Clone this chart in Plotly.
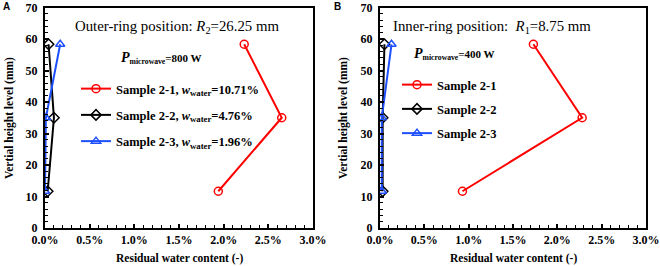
import plotly.graph_objects as go

heights = [58.33, 35.0, 11.67]

# Panel A (outer ring, 800 W)
a_s21 = [0.0223, 0.0265, 0.0194]
a_s22 = [0.0004, 0.0010, 0.0003]
a_s23 = [0.0017, 0.0001, 0.0000]
# Panel B (inner ring, 400 W)
b_s21 = [0.0173, 0.0228, 0.0093]
b_s22 = [0.0005, 0.0003, 0.0003]
b_s23 = [0.0013, 0.0002, 0.0002]

a_names = ["Sample 2-1, <i>w</i><sub>water</sub>=10.71%",
           "Sample 2-2, <i>w</i><sub>water</sub>=4.76%",
           "Sample 2-3, <i>w</i><sub>water</sub>=1.96%"]
b_names = ["Sample 2-1", "Sample 2-2", "Sample 2-3"]

colors = ["#FF0000", "#000000", "#1E50FF"]
symbols = ["circle-open", "diamond-open", "triangle-up-open"]

SERIF = "Liberation Serif"
SANS = "Liberation Sans"

fig = go.Figure()

for i, (vals, name) in enumerate(zip([a_s21, a_s22, a_s23], a_names)):
    fig.add_trace(go.Scatter(
        x=vals, y=heights, mode="lines+markers", name=name,
        line=dict(color=colors[i], width=2),
        marker=dict(symbol=symbols[i], size=8, color=colors[i], line=dict(width=1.5, color=colors[i])),
        xaxis="x", yaxis="y", legend="legend", legendgroup="a%d" % i))

for i, (vals, name) in enumerate(zip([b_s21, b_s22, b_s23], b_names)):
    fig.add_trace(go.Scatter(
        x=vals, y=heights, mode="lines+markers", name=name,
        line=dict(color=colors[i], width=2),
        marker=dict(symbol=symbols[i], size=8, color=colors[i], line=dict(width=1.5, color=colors[i])),
        xaxis="x2", yaxis="y2", legend="legend2", legendgroup="b%d" % i))

W, H = 660, 266
def px(x):
    return x / W
def py(y):
    return 1 - y / H

xcommon = dict(range=[0, 0.03], dtick=0.005, tick0=0, tickformat=".1%",
               ticks="inside", ticklen=4, tickwidth=1.5, tickcolor="black",
               minor=dict(dtick=0.001, ticks="inside", ticklen=3, tickwidth=1, tickcolor="black"),
               showline=True, linecolor="black", linewidth=2, mirror=True,
               showgrid=False, zeroline=False, automargin=False,
               tickfont=dict(family=SERIF, size=12, color="black", weight="bold"))
ycommon = dict(range=[0, 70], dtick=10, tick0=0,
               ticks="inside", ticklen=4, tickwidth=1.5, tickcolor="black",
               minor=dict(dtick=2, ticks="inside", ticklen=3, tickwidth=1, tickcolor="black"),
               showline=True, linecolor="black", linewidth=2, mirror=True,
               showgrid=False, zeroline=False, automargin=False, ticklabelstandoff=3,
               tickfont=dict(family=SERIF, size=12, color="black", weight="bold"),
               domain=[py(228), py(7.5)])

legcommon = dict(bgcolor="rgba(0,0,0,0)", borderwidth=0, traceorder="grouped",
                 font=dict(family=SERIF, size=12.5, color="black", weight="bold"),
                 xanchor="left", yanchor="top", itemwidth=30)

fig.update_layout(
    width=W, height=H, margin=dict(l=0, r=0, t=0, b=0),
    paper_bgcolor="white", plot_bgcolor="white",
    xaxis=dict(domain=[px(45), px(313)], anchor="y", **xcommon),
    yaxis=dict(anchor="x", **ycommon),
    xaxis2=dict(domain=[px(380), px(646)], anchor="y2", **xcommon),
    yaxis2=dict(anchor="x2", **ycommon),
    legend=dict(x=px(76), y=py(74), tracegroupgap=7, **legcommon),
    legend2=dict(x=px(397), y=py(70), tracegroupgap=5, **legcommon),
    showlegend=True,
)

ann = []
def add(text, x, y, size, bold=False, rot=0, family=SERIF, xanchor="center"):
    ann.append(dict(text=text, x=px(x), y=py(y), xref="paper", yref="paper",
                    showarrow=False, textangle=rot, xanchor=xanchor, yanchor="middle",
                    font=dict(family=family, size=size, color="black", weight="bold" if bold else "normal")))

add("Outer-ring position: <i>R</i><sub>2</sub>=26.25 mm", 177, 27, 14.8)
add("Inner-ring position:  <i>R</i><sub>1</sub>=8.75 mm", 492, 27, 14.8)
add("<span style='font-size:14px'><i>P</i></span><sub>microwave</sub>=800 W", 161, 58, 11, bold=True)
add("<span style='font-size:14px'><i>P</i></span><sub>microwave</sub>=400 W", 454, 54, 11, bold=True)
add("Vertial height level (mm)", 10, 118, 11.5, bold=True, rot=-90)
add("Vertial height level (mm)", 344, 118, 11.5, bold=True, rot=-90)
add("Residual water content (-)", 179, 258, 11.5, bold=True)
add("Residual water content (-)", 513, 258, 11.5, bold=True)
add("A", 6, 7, 10, bold=True, family=SANS)
add("B", 337, 7, 10, bold=True, family=SANS)
fig.update_layout(annotations=ann)

fig.write_html("out.html")
